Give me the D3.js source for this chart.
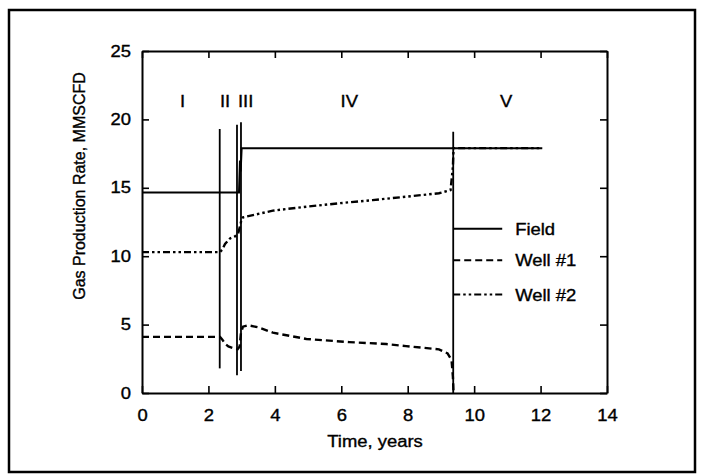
<!DOCTYPE html>
<html>
<head>
<meta charset="UTF-8">
<script src="https://d3js.org/d3.v7.min.js"></script>
<style>
  body { margin: 0; background: #fff; }
  text { font-family: "Liberation Sans", Arial, Helvetica, sans-serif; fill: #000; stroke: #000; stroke-width: 0.35px; }
  .axis path, .axis line { stroke: #000; }
</style>
</head>
<body>
<svg width="701" height="475"></svg>
<script>
// data: [time (years), rate (MMSCFD)]
var fieldRate = [[0,14.65],[2.92,14.65],[2.95,17.0],[2.97,16.2],[3.0,17.9],[12.05,17.9]];
var well1Rate = [[0,4.1],[2.35,4.1],[2.42,3.9],[2.5,3.6],[2.6,3.4],[2.72,3.3],[2.88,3.2],[2.94,3.4],[2.98,4.4],[3.04,4.85],
                 [3.2,4.95],[3.5,4.8],[3.94,4.41],[4.95,3.95],[6.24,3.72],[7.35,3.58],[7.95,3.43],[8.94,3.19],[9.2,2.9],
                 [9.32,2.4],[9.36,1.2],[9.38,0]];
var well2Rate = [[0,10.3],[2.35,10.3],[2.42,10.5],[2.5,10.9],[2.65,11.3],[2.8,11.45],[2.9,11.7],[2.95,12.2],[3.0,12.7],
                 [3.04,12.84],[3.94,13.33],[4.95,13.62],[5.94,13.87],[6.94,14.1],[7.95,14.35],[8.94,14.6],[9.29,14.84],
                 [9.36,16.5],[9.38,17.9],[12.05,17.9]];

// period boundaries: time, bottom and top of each vertical line
var phaseTimes = [2.34, 2.86, 2.98, 9.37];
var phaseLow   = [1.8, 1.3, 1.6, 0];
var phaseHigh  = [19.3, 19.6, 19.8, 19.1];

var phaseNames = ["I", "II", "III", "IV", "V"];
var phaseLabelT = [1.22, 2.5, 3.12, 6.24, 10.96];

var legendNames = ["Field", "Well #1", "Well #2"];
var legendRate = [12.0, 9.7, 7.2];

var xTicks = [0, 2, 4, 6, 8, 10, 12, 14];
var yTicks = [0, 5, 10, 15, 20, 25];

var svg = d3.select("svg");
var stretch = 1.15;   // the scanned figure is a bit wider than tall

function widen(sel) {
  sel.each(function() {
    var w = this.getComputedTextLength();
    d3.select(this).attr("textLength", w * stretch).attr("lengthAdjust", "spacingAndGlyphs");
  });
}

// outer frame
svg.append("rect")
  .attr("x", 9).attr("y", 10).attr("width", 686).attr("height", 462)
  .attr("fill", "none").attr("stroke", "#000").attr("stroke-width", 2.5);

var x = d3.scaleLinear().domain([0, 14]).range([142, 607]);
var y = d3.scaleLinear().domain([0, 25]).range([393, 51]);

svg.append("g").attr("class", "axis").attr("transform", "translate(0,393)")
  .call(d3.axisBottom(x).tickValues(xTicks).tickSize(-7).tickSizeOuter(0).tickPadding(17));
svg.append("g").attr("class", "axis").attr("transform", "translate(142,0)")
  .call(d3.axisLeft(y).tickValues(yTicks).tickSize(-7).tickSizeOuter(0).tickPadding(11));
svg.append("g").attr("class", "axis").attr("transform", "translate(0,51)")
  .call(d3.axisTop(x).tickValues(xTicks).tickSize(-7).tickSizeOuter(0).tickFormat(""));
svg.append("g").attr("class", "axis").attr("transform", "translate(607,0)")
  .call(d3.axisRight(y).tickValues(yTicks).tickSize(-7).tickSizeOuter(0).tickFormat(""));

svg.selectAll(".axis path").attr("stroke-width", 2);
svg.selectAll(".axis line").attr("stroke-width", 1.6);
svg.selectAll(".axis text").attr("font-size", "16px").attr("font-family", null).call(widen);

// axis titles
svg.append("text")
  .attr("x", 375).attr("y", 447)
  .attr("text-anchor", "middle").attr("font-size", "16px")
  .text("Time, years").call(widen);

svg.append("text")
  .attr("transform", "translate(85,186) rotate(-90)")
  .attr("text-anchor", "middle").attr("font-size", "16px")
  .text("Gas Production Rate, MMSCFD");

// period boundary lines
svg.selectAll(".phase")
  .data(phaseTimes)
  .enter().append("line")
  .attr("class", "phase")
  .attr("x1", function(d) { return x(d); })
  .attr("x2", function(d) { return x(d); })
  .attr("y1", function(d, i) { return y(phaseLow[i]); })
  .attr("y2", function(d, i) { return y(phaseHigh[i]); })
  .attr("stroke", "#000").attr("stroke-width", 1.8);

svg.selectAll(".phaseName")
  .data(phaseNames)
  .enter().append("text")
  .attr("class", "phaseName")
  .attr("x", function(d, i) { return x(phaseLabelT[i]); })
  .attr("y", y(20.9))
  .attr("text-anchor", "middle").attr("font-size", "16px")
  .text(function(d) { return d; })
  .call(widen);

var line = d3.line()
  .x(function(d) { return x(d[0]); })
  .y(function(d) { return y(d[1]); });

var series = [
  { data: well1Rate, dash: "7,4", width: 2.4 },
  { data: well2Rate, dash: "7,3,2.5,3,2.5,3", width: 2.4 },
  { data: fieldRate, dash: null, width: 2 }
];

svg.selectAll(".series")
  .data(series)
  .enter().append("path")
  .attr("class", "series")
  .attr("d", function(d) { return line(d.data); })
  .attr("fill", "none").attr("stroke", "#000")
  .attr("stroke-width", function(d) { return d.width; })
  .attr("stroke-dasharray", function(d) { return d.dash; });

// legend, hanging off the last period line
var legendDash = [null, "7,4", "7,3,2.5,3,2.5,3"];
var lg = svg.selectAll(".legend")
  .data(legendNames)
  .enter().append("g")
  .attr("class", "legend")
  .attr("transform", function(d, i) { return "translate(0," + y(legendRate[i]) + ")"; });

lg.append("line")
  .attr("x1", x(phaseTimes[3])).attr("x2", x(phaseTimes[3]) + 49)
  .attr("stroke", "#000").attr("stroke-width", 2)
  .attr("stroke-dasharray", function(d, i) { return legendDash[i]; });

lg.append("text")
  .attr("x", x(phaseTimes[3]) + 62).attr("y", 6)
  .attr("font-size", "16px")
  .text(function(d) { return d; })
  .call(widen);
</script>
</body>
</html>
